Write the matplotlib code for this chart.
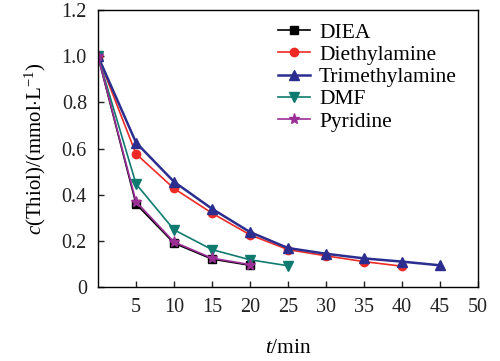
import matplotlib
matplotlib.use("Agg")
import matplotlib.pyplot as plt

plt.rcParams['font.family'] = ['Liberation Serif', 'DejaVu Serif']
plt.rcParams['mathtext.fontset'] = 'custom'
plt.rcParams['mathtext.rm'] = 'Liberation Serif'
plt.rcParams['mathtext.it'] = 'Liberation Serif:italic'

t_diea = [0, 5, 10, 15, 20]
diea = [1.0, 0.36, 0.19, 0.121, 0.094]
t_dea = [0, 5, 10, 15, 20, 25, 30, 35, 40]
dea = [1.0, 0.577, 0.427, 0.32, 0.226, 0.162, 0.135, 0.11, 0.09]
t_tma = [0, 5, 10, 15, 20, 25, 30, 35, 40, 45]
tma = [1.0, 0.626, 0.456, 0.339, 0.238, 0.169, 0.144, 0.124, 0.11, 0.094]
t_dmf = [0, 5, 10, 15, 20, 25]
dmf = [1.0, 0.447, 0.248, 0.162, 0.118, 0.092]
t_pyr = [0, 5, 10, 15, 20]
pyr = [1.0, 0.37, 0.195, 0.125, 0.097]

xticks = [5, 10, 15, 20, 25, 30, 35, 40, 45, 50]
yticks = [0, 0.2, 0.4, 0.6, 0.8, 1.0, 1.2]
ytick_labels = ['0', '0.2', '0.4', '0.6', '0.8', '1.0', '1.2']

fig = plt.figure(figsize=(5, 3.61), dpi=100)
ax = fig.add_axes([0.196, 0.205, 0.76, 0.767])

ax.plot(t_diea, diea, color='black', marker='s', ms=5.5, lw=1.2, label='DIEA')
ax.plot(t_dea, dea, color='#ee2a24', marker='o', ms=6, lw=1.2, label='Diethylamine')
ax.plot(t_tma, tma, color='#2b2e8f', marker='^', ms=7.5, lw=1.8, label='Trimethylamine')
ax.plot(t_dmf, dmf, color='#0f7b70', marker='v', ms=7, lw=1.2, label='DMF')
ax.plot(t_pyr, pyr, color='#9b2f96', marker='*', ms=8, lw=1.2, label='Pyridine')

ax.set_xlim(0, 50)
ax.set_ylim(0, 1.2)
ax.set_xticks(xticks, [str(x) for x in xticks])
ax.set_yticks(yticks, ytick_labels)
ax.tick_params(direction='in', length=4, width=1, labelsize=14.5, pad=8, colors='#222222')
for s in ax.spines.values():
    s.set_linewidth(1.0)

ax.set_xlabel(r'$\mathit{t}$/min', fontsize=15.5, labelpad=16)
ax.set_ylabel(r'$\mathit{c}$(Thiol)/(mmol$\cdot$L$^{-1}$)', fontsize=15, labelpad=10)

leg = ax.legend(loc='upper left', bbox_to_anchor=(0.474, 0.955), frameon=False, fontsize=15.5,
                handlelength=1.5, handletextpad=0.4, labelspacing=0.1,
                borderaxespad=0, borderpad=0)

fig.savefig('out.png', dpi=100)
